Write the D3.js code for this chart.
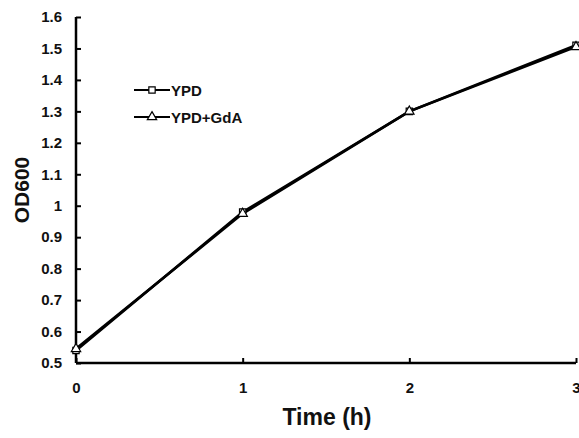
<!DOCTYPE html>
<html>
<head>
<meta charset="utf-8">
<script src="https://cdn.jsdelivr.net/npm/d3@7"></script>
<style>
  body { margin: 0; background: #fff; }
  text { font-family: "Liberation Sans", Arial, sans-serif; font-weight: bold; }
</style>
</head>
<body>
<svg id="chart" width="579" height="438"></svg>
<script>
const times = [0, 1, 2, 3];
const ypd = [0.54, 0.98, 1.30, 1.51];
const ypdGda = [0.545, 0.975, 1.30, 1.505];
const yTicks = [0.5, 0.6, 0.7, 0.8, 0.9, 1, 1.1, 1.2, 1.3, 1.4, 1.5, 1.6];
const xTicks = [0, 1, 2, 3];

const svg = d3.select("#chart");
const x = d3.scaleLinear().domain([0, 3]).range([76, 576]);
const y = d3.scaleLinear().domain([0.5, 1.6]).range([363, 17]);

// axes
const yAxis = svg.append("g").attr("transform", "translate(76,0)")
  .call(d3.axisRight(y).tickValues(yTicks).tickSize(5).tickFormat(d3.format("")));
yAxis.attr("font-size", null);
yAxis.select(".domain").attr("stroke-width", 2.5).attr("d", "M0,17V363");
yAxis.selectAll(".tick line").attr("stroke-width", 2);
yAxis.selectAll(".tick text").attr("x", -14).attr("text-anchor", "end")
  .style("font-size", "15px").attr("fill", "#111");

const xAxis = svg.append("g").attr("transform", "translate(0,363)")
  .call(d3.axisTop(x).tickValues(xTicks).tickSize(5).tickFormat(d3.format("d")));
xAxis.attr("font-size", null);
xAxis.select(".domain").attr("stroke-width", 2.5).attr("d", "M76,0H576");
xAxis.selectAll(".tick line").attr("stroke-width", 2);
xAxis.selectAll(".tick text").attr("y", 30).style("font-size", "15px").attr("fill", "#111");

// axis titles
svg.append("text").attr("x", 327).attr("y", 425).attr("text-anchor", "middle")
  .style("font-size", "23px").attr("fill", "#111").text("Time (h)");
svg.append("text").attr("transform", "translate(29,190) rotate(-90)")
  .attr("text-anchor", "middle").style("font-size", "21px").attr("fill", "#111").text("OD600");

// lines
const line = d3.line().x((d, i) => x(times[i])).y(d => y(d));
[ypd, ypdGda].forEach(s => {
  svg.append("path").datum(s).attr("d", line)
    .attr("fill", "none").attr("stroke", "#000").attr("stroke-width", 2.6);
});

const sq = d3.symbol().type(d3.symbolSquare).size(40);
const tri = d3.symbol().type(d3.symbolTriangle).size(38);

svg.append("g").selectAll("path").data(ypd).join("path")
  .attr("transform", (d, i) => `translate(${x(times[i])},${y(d)})`)
  .attr("d", sq).attr("fill", "#fff").attr("stroke", "#000").attr("stroke-width", 1.2);
svg.append("g").selectAll("path").data(ypdGda).join("path")
  .attr("transform", (d, i) => `translate(${x(times[i])},${y(d)})`)
  .attr("d", tri).attr("fill", "#fff").attr("stroke", "#000").attr("stroke-width", 1.2);

// legend
const legend = [
  { label: "YPD", sym: sq, y: 90 },
  { label: "YPD+GdA", sym: tri, y: 117 }
];
legend.forEach(l => {
  svg.append("line").attr("x1", 134).attr("x2", 170).attr("y1", l.y).attr("y2", l.y)
    .attr("stroke", "#000").attr("stroke-width", 2.2);
  svg.append("path").attr("d", l.sym).attr("transform", `translate(152,${l.y})`)
    .attr("fill", "#fff").attr("stroke", "#000").attr("stroke-width", 1.2);
  svg.append("text").attr("x", 171).attr("y", l.y + 5.5).style("font-size", "15px")
    .attr("fill", "#111").text(l.label);
});
</script>
</body>
</html>
